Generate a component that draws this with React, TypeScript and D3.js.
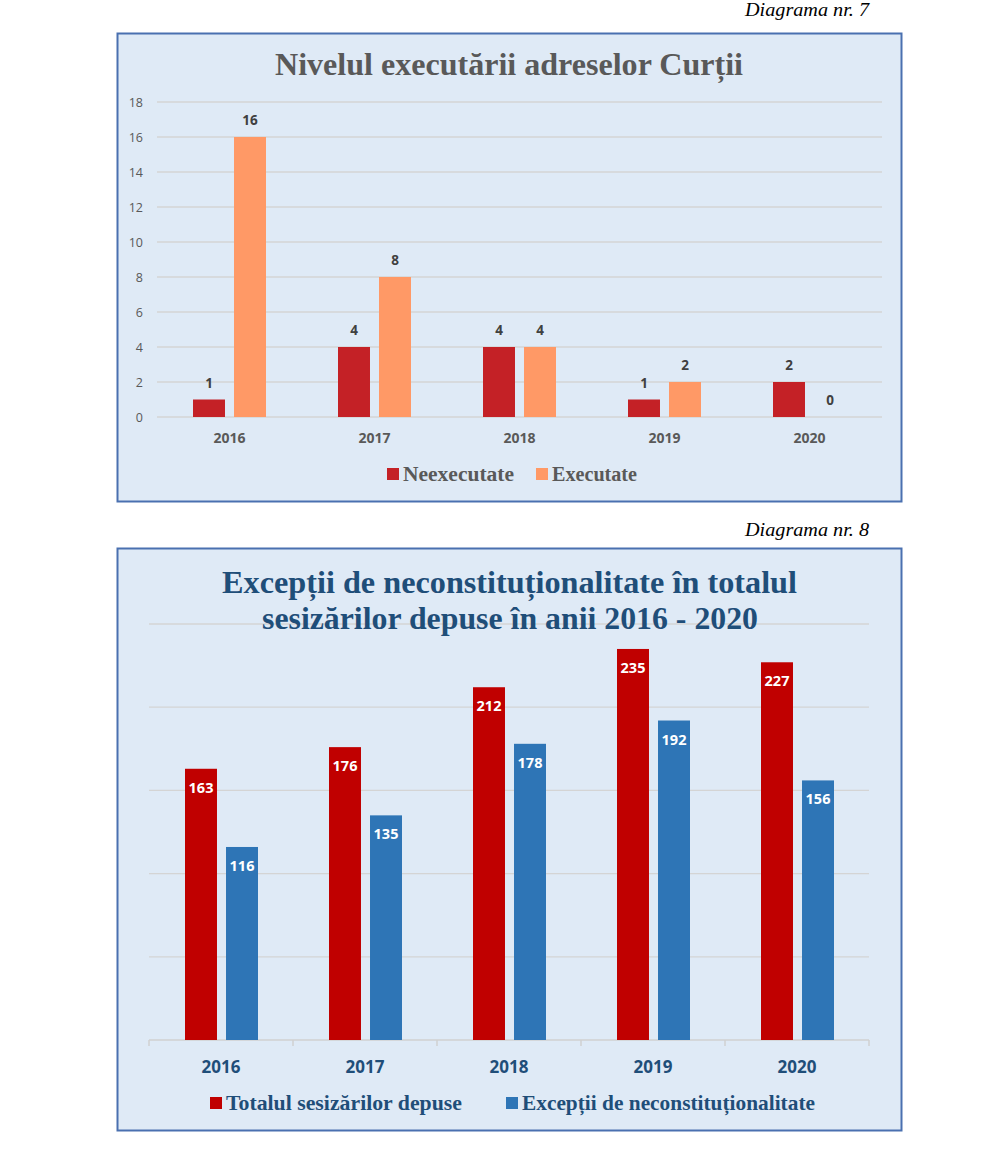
import * as d3 from "d3";

// Diagrama nr. 7
const years7 = ["2016", "2017", "2018", "2019", "2020"];
const series7 = ["Neexecutate", "Executate"];
const neexecutate = [1, 4, 4, 1, 2];
const executate = [16, 8, 4, 2, 0];
const ticks7 = [0, 2, 4, 6, 8, 10, 12, 14, 16, 18];

// Diagrama nr. 8
const years8 = ["2016", "2017", "2018", "2019", "2020"];
const series8 = ["Totalul sesizărilor depuse", "Excepții de neconstituționalitate"];
const totalSesizari = [163, 176, 212, 235, 227];
const exceptii = [116, 135, 178, 192, 156];
const ticks8 = [0, 50, 100, 150, 200, 250];

const SANS = "'Open Sans', 'DejaVu Sans', sans-serif";
const SERIF = "'Liberation Serif', 'DejaVu Serif', serif";

const Chart7 = () => {
  const x0 = d3.scaleBand().domain(years7).range([157, 882]);
  const x1 = d3.scaleBand().domain(series7).range([36, 109]).paddingInner(0.22);
  const y = d3.scaleLinear().domain([0, 18]).range([417, 102]);
  const color = d3.scaleOrdinal<string>().domain(series7).range(["#c42126", "#ff9966"]);
  const values = [neexecutate, executate];

  return (
    <g>
      <text
        x={869}
        y={16}
        textAnchor="end"
        fontFamily={SERIF}
        fontStyle="italic"
        fontSize={18.5}
        textLength={124}
        lengthAdjust="spacingAndGlyphs"
      >
        Diagrama nr. 7
      </text>
      <rect x={117.5} y={33.5} width={784} height={468} fill="#dfeaf6" stroke="#4a70b0" strokeWidth={2} />
      <text
        x={275}
        y={75}
        fontFamily={SERIF}
        fontWeight="bold"
        fontSize={31}
        fill="#595959"
        textLength={468}
        lengthAdjust="spacingAndGlyphs"
      >
        Nivelul executării adreselor Curții
      </text>
      {ticks7.map((t) => (
        <g key={t}>
          <line x1={157} x2={882} y1={y(t)} y2={y(t)} stroke="#d4d4d4" strokeWidth={1.3} />
          <text x={143} y={y(t) + 4.5} textAnchor="end" fontFamily={SANS} fontSize={12.5} fill="#595959">
            {t}
          </text>
        </g>
      ))}
      {years7.map((yr, i) => (
        <g key={yr} transform={`translate(${x0(yr)},0)`}>
          {series7.map((s, j) => {
            const v = values[j][i];
            const bx = x1(s)!;
            return (
              <g key={s}>
                {v > 0 && (
                  <rect x={bx} y={y(v)} width={x1.bandwidth()} height={y(0) - y(v)} fill={color(s)} />
                )}
                <text
                  x={bx + x1.bandwidth() / 2}
                  y={y(v) - 12}
                  textAnchor="middle"
                  fontFamily={SANS}
                  fontWeight="bold"
                  fontSize={13.5}
                  fill="#404040"
                >
                  {v}
                </text>
              </g>
            );
          })}
          <text
            x={x0.bandwidth() / 2}
            y={443}
            textAnchor="middle"
            fontFamily={SANS}
            fontWeight="bold"
            fontSize={14}
            fill="#595959"
          >
            {yr}
          </text>
        </g>
      ))}
      <rect x={387} y={468} width={12} height={12} fill={color(series7[0])} />
      <text
        x={403}
        y={481}
        fontFamily={SERIF}
        fontWeight="bold"
        fontSize={20.5}
        fill="#595959"
        textLength={111}
        lengthAdjust="spacingAndGlyphs"
      >
        {series7[0]}
      </text>
      <rect x={536} y={468} width={12} height={12} fill={color(series7[1])} />
      <text
        x={552}
        y={481}
        fontFamily={SERIF}
        fontWeight="bold"
        fontSize={20.5}
        fill="#595959"
        textLength={85}
        lengthAdjust="spacingAndGlyphs"
      >
        {series7[1]}
      </text>
    </g>
  );
};

const Chart8 = () => {
  const x0 = d3.scaleBand().domain(years8).range([149, 869]);
  const x1 = d3.scaleBand().domain(series8).range([36, 109]).paddingInner(0.22);
  const y = d3.scaleLinear().domain([0, 250]).range([1040, 624]);
  const color = d3.scaleOrdinal<string>().domain(series8).range(["#c00000", "#2e75b6"]);
  const values = [totalSesizari, exceptii];
  const blue = "#1f4e79";

  return (
    <g>
      <text
        x={869}
        y={536}
        textAnchor="end"
        fontFamily={SERIF}
        fontStyle="italic"
        fontSize={18.5}
        textLength={124}
        lengthAdjust="spacingAndGlyphs"
      >
        Diagrama nr. 8
      </text>
      <rect x={117.5} y={548.5} width={784} height={582} fill="#dfeaf6" stroke="#4a70b0" strokeWidth={2} />
      {ticks8.slice(1).map((t) => (
        <line key={t} x1={149} x2={869} y1={y(t)} y2={y(t)} stroke="#d4d4d4" strokeWidth={1.3} />
      ))}
      <line x1={149} x2={869} y1={y(0)} y2={y(0)} stroke="#d0d0d0" strokeWidth={1.5} />
      {[...years8.map((yr) => x0(yr)!), 869].map((tx, i) => (
        <line key={i} x1={tx} x2={tx} y1={y(0)} y2={y(0) + 6} stroke="#d0d0d0" strokeWidth={1.5} />
      ))}
      <text fontFamily={SERIF} fontWeight="bold" fontSize={32} fill={blue}>
        <tspan x={222} y={593} textLength={575} lengthAdjust="spacingAndGlyphs">
          Excepții de neconstituționalitate în totalul
        </tspan>
        <tspan x={262} y={629} textLength={496} lengthAdjust="spacingAndGlyphs">
          sesizărilor depuse în anii 2016 - 2020
        </tspan>
      </text>
      {years8.map((yr, i) => (
        <g key={yr} transform={`translate(${x0(yr)},0)`}>
          {series8.map((s, j) => {
            const v = values[j][i];
            const bx = x1(s)!;
            return (
              <g key={s}>
                <rect x={bx} y={y(v)} width={x1.bandwidth()} height={y(0) - y(v)} fill={color(s)} />
                <text
                  x={bx + x1.bandwidth() / 2}
                  y={y(v) + 24}
                  textAnchor="middle"
                  fontFamily={SANS}
                  fontWeight="bold"
                  fontSize={14.5}
                  fill="#ffffff"
                >
                  {v}
                </text>
              </g>
            );
          })}
          <text
            x={x0.bandwidth() / 2}
            y={1073}
            textAnchor="middle"
            fontFamily={SANS}
            fontWeight="bold"
            fontSize={17}
            fill={blue}
          >
            {yr}
          </text>
        </g>
      ))}
      <rect x={210} y={1097} width={12} height={12} fill={color(series8[0])} />
      <text
        x={226}
        y={1110}
        fontFamily={SERIF}
        fontWeight="bold"
        fontSize={21}
        fill={blue}
        textLength={236}
        lengthAdjust="spacingAndGlyphs"
      >
        {series8[0]}
      </text>
      <rect x={506} y={1097} width={12} height={12} fill={color(series8[1])} />
      <text
        x={522}
        y={1110}
        fontFamily={SERIF}
        fontWeight="bold"
        fontSize={21}
        fill={blue}
        textLength={293}
        lengthAdjust="spacingAndGlyphs"
      >
        {series8[1]}
      </text>
    </g>
  );
};

export default function App() {
  return (
    <svg
      width={986}
      height={1152}
      style={{ position: "absolute", left: 0, top: 0, background: "#ffffff" }}
    >
      <Chart7 />
      <Chart8 />
    </svg>
  );
}
